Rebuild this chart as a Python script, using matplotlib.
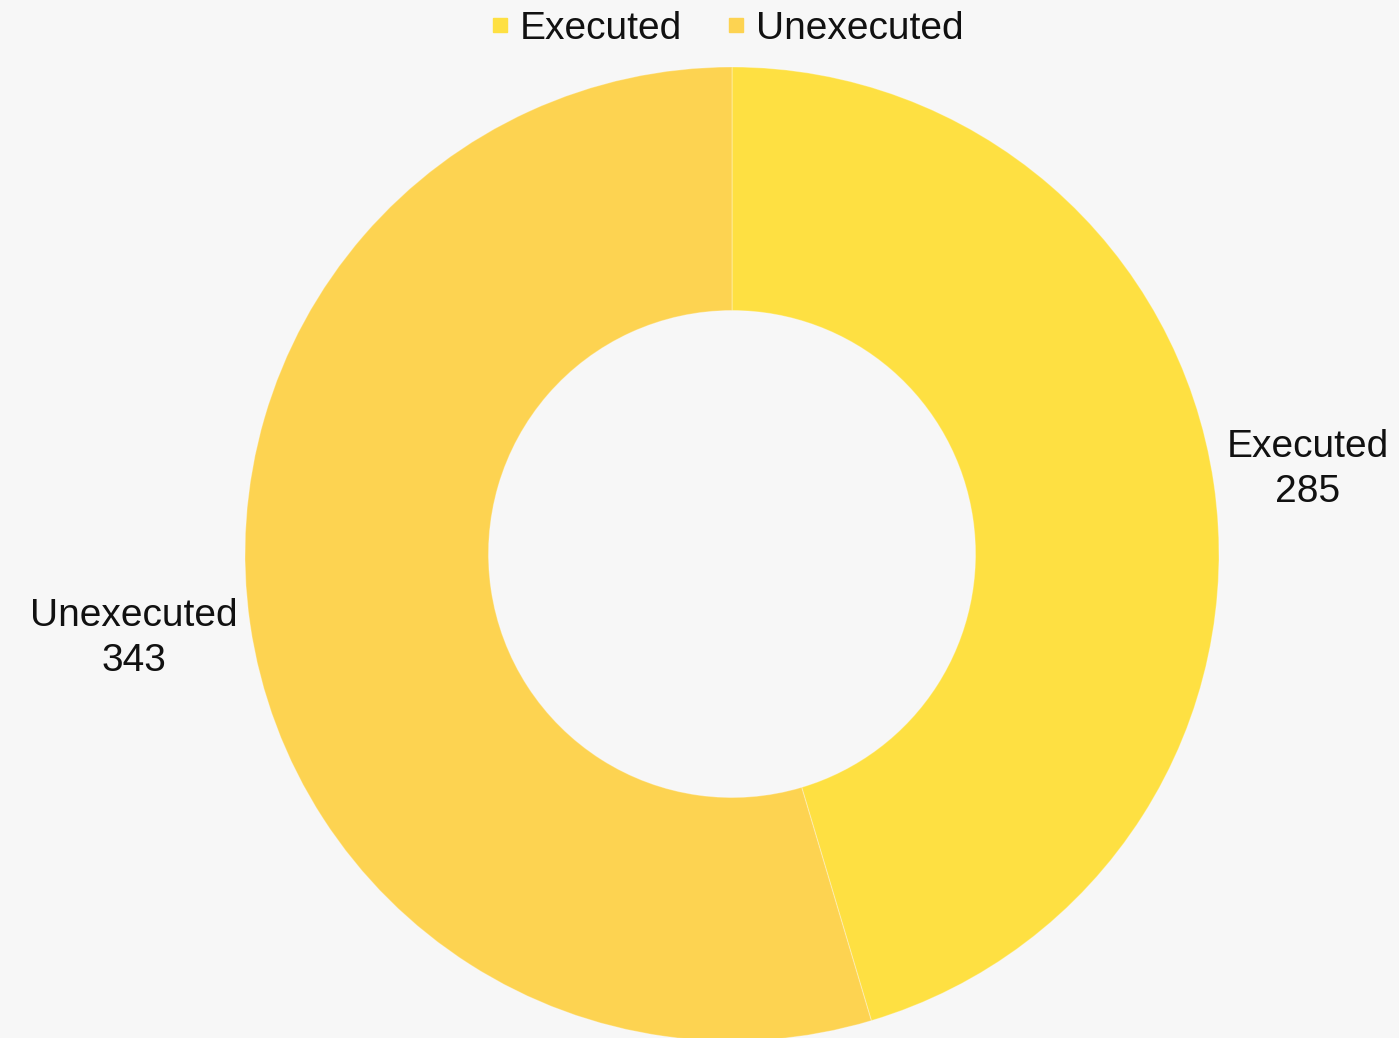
import numpy as np
import matplotlib
matplotlib.use("Agg")
import matplotlib.pyplot as plt
from matplotlib.lines import Line2D

categories = ["Executed", "Unexecuted"]
values = [285, 343]
colors = ["#FEE042", "#FDD351"]
bg = "#F7F7F7"

plt.rcParams['font.family'] = ['Liberation Sans', 'DejaVu Sans']

W, H = 1399, 1038
fig = plt.figure(figsize=(W / 100, H / 100), dpi=100, facecolor=bg)
cx, cy, R = 732, 554, 487
ax = fig.add_axes([(cx - R) / W, (H - cy - R) / H, 2 * R / W, 2 * R / H])
ax.set_facecolor(bg)

wedges, texts = ax.pie(values, colors=colors, startangle=90, counterclock=False,
                       radius=1.0, labels=categories, labeldistance=1.2,
                       wedgeprops=dict(width=0.5, edgecolor=(1, 1, 1, 0.3), linewidth=0.8))
ax.set_xlim(-1, 1)
ax.set_ylim(-1, 1)
ax.set_aspect('equal')
ax.axis('off')

fs = 28
for w, t, cat, v in zip(wedges, texts, categories, values):
    mid = np.deg2rad((w.theta1 + w.theta2) / 2)
    x = np.cos(mid)
    y = np.sin(mid)
    t.set_text(f"{cat}\n{v}")
    t.set_fontsize(fs)
    t.set_color("#111111")
    t.set_multialignment('center')
    t.set_va('center')
    t.set_clip_on(False)
    if x >= 0:
        t.set_position((1.015, 1.2 * y))
        t.set_ha('left')
    else:
        t.set_position((-1.015, 1.2 * y))
        t.set_ha('right')
    t.set_linespacing(1.32)

handles = [Line2D([0], [0], marker='s', linestyle='none', markersize=10.5,
                  markerfacecolor=c, markeredgecolor=c) for c in colors]
leg = ax.legend(handles, categories, loc='center',
                bbox_to_anchor=(0.5 - 5 / (2 * R), 1.0 + (cy - R - 29) / (2 * R)),
                ncol=2, frameon=False, fontsize=fs, handlelength=0.5,
                handletextpad=0.25, columnspacing=1.15, borderaxespad=0)
for txt in leg.get_texts():
    txt.set_color("#111111")

fig.savefig("out.png", dpi=100, facecolor=bg)
